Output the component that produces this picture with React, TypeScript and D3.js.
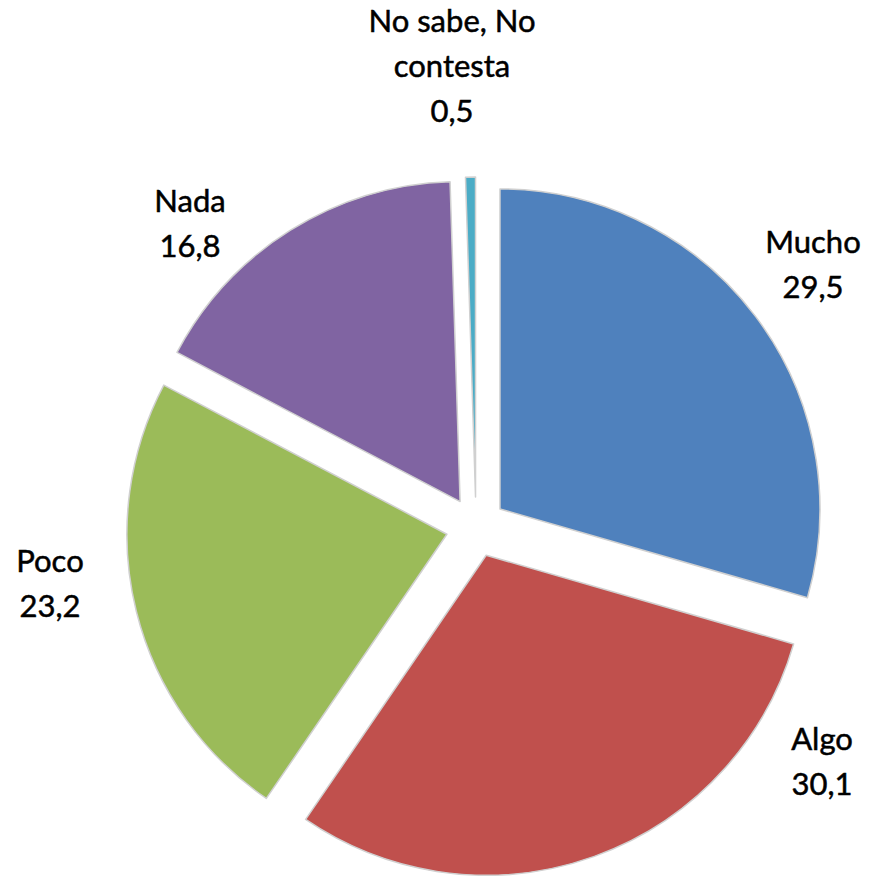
import React from "react";
import * as d3 from "d3";

const categories = ["Mucho", "Algo", "Poco", "Nada", "No sabe, No contesta"];
const values = [29.5, 30.1, 23.2, 16.8, 0.5];
const valueLabels = ["29,5", "30,1", "23,2", "16,8", "0,5"];
const colors = ["#4F81BD", "#C0504D", "#9BBB59", "#8064A2", "#4BACC6"];

// label layout: lines and anchor centers (layout, not data)
const labelLines = [["Mucho"], ["Algo"], ["Poco"], ["Nada"], ["No sabe, No", "contesta"]];
const labelPos = [
  [813, 253],
  [822, 750],
  [50, 572],
  [190, 212],
  [452, 32],
];

const W = 872;
const H = 876;
const CX = 476;
const CY = 527;
const R = 320;
const EXPLODE = 30;

export default function App() {
  const data = categories.map((c, i) => ({ c, v: values[i], i }));
  const pie = d3
    .pie<any>()
    .sort(null)
    .value((d) => d.v)
    .startAngle(0)
    .endAngle(2 * Math.PI);
  const arcs = pie(data);
  const arc = d3.arc<any>().innerRadius(0).outerRadius(R);
  const font = "Lato, 'Open Sans', sans-serif";
  const fs = 31;
  const lh = 45;

  return (
    <div>
      <style>{`body{margin:0;background:#fff}`}</style>
      <svg width={W} height={H} style={{ display: "block" }}>
        <rect width={W} height={H} fill="#fff" />
        <g transform={`translate(${CX},${CY})`}>
          {arcs.map((a, k) => {
            const mid = (a.startAngle + a.endAngle) / 2;
            const dx = Math.sin(mid) * EXPLODE;
            const dy = -Math.cos(mid) * EXPLODE;
            return (
              <path
                key={k}
                d={arc(a) as string}
                transform={`translate(${dx},${dy})`}
                fill={colors[k]}
                stroke="#d0d0d0"
                strokeWidth={1.5}
                strokeLinejoin="round"
              />
            );
          })}
        </g>
        {labelLines.map((lines, k) => {
          const [x, y] = labelPos[k];
          const all = [...lines, valueLabels[k]];
          return (
            <text
              key={k}
              x={x}
              y={y}
              textAnchor="middle"
              fontFamily={font}
              fontSize={fs}
              fill="#000"
              stroke="#000"
              strokeWidth={0.5}
            >
              {all.map((t, j) => (
                <tspan key={j} x={x} dy={j === 0 ? 0 : lh}>
                  {t}
                </tspan>
              ))}
            </text>
          );
        })}
      </svg>
    </div>
  );
}
